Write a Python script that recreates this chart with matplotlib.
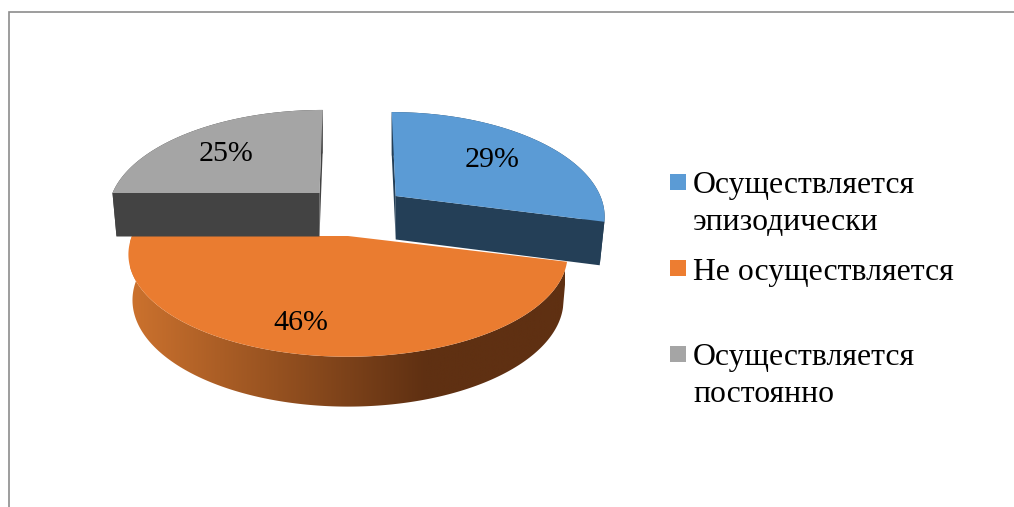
import matplotlib
matplotlib.use('Agg')
import matplotlib.pyplot as plt
import numpy as np
from matplotlib.patches import Polygon, Rectangle

plt.rcParams['font.family'] = ['Liberation Serif', 'DejaVu Serif']

# data
categories = ['Осуществляется\nэпизодически', 'Не осуществляется', 'Осуществляется\nпостоянно']
values = [29, 46, 25]

# colours
top_colors = ['#5B9BD5', '#EA7C30', '#A5A5A5']
side_colors = ['#243F57', None, '#434343']
legend_colors = ['#5B9BD5', '#ED7D31', '#A5A5A5']

# slice layout in pixels: centre, radii, tilt of the inner edge, wall
P = 0.18
cx = [395.7, 348, 319.5]
cy = [196, 236, 193]
rx = [204.6, 216, 207]
ry = [99, 99, 98]
skew = [-0.023, 0.0, 0.018]
wall = [43.5, 45, 43.5]
bottom_rx = [200, 212, 203]
bottom_ry = [99, 103, 98]

# label position along the slice radius, and a small nudge
label_r = [0.7, 0.742, 0.66]
label_dx = [-7, -24, -6]
label_dy = [3, 3, 3]

# legend layout
legend_x = 670
legend_box = 16
legend_text_x = 693
legend_box_top = [174, 260, 346]
legend_baseline = [193, 280, 365]
legend_pitch = 37


def project(theta, r, x0, y0, rad_x, rad_y, k):
    # slice plane to screen, back of the pie is squeezed by the perspective
    u = r * np.sin(theta)
    v = r * np.cos(theta)
    w = 1 + P * v
    return x0 + rad_x * (u + k * v) / w, y0 - rad_y * v / w


def radial_face(i, theta):
    # flat wall between the slice centre and its rim at angle theta
    x1, y1 = project(theta, 1, cx[i], cy[i], rx[i], ry[i], skew[i])
    x2, y2 = project(theta, 1, cx[i], cy[i] + wall[i], bottom_rx[i], bottom_ry[i], skew[i])
    return [(cx[i], cy[i]), (x1, y1), (x2, y2), (cx[i], cy[i] + wall[i])]


fig = plt.figure(figsize=(10.14, 5.07), dpi=100)
ax = fig.add_axes([0, 0, 1, 1])

# angles from the values, clockwise from the top
edges = np.cumsum([0] + values) / sum(values) * 2 * np.pi

# draw the side slices first, the orange one overlaps them
for i in [0, 2, 1]:
    t = np.linspace(edges[i], edges[i + 1], 200)
    tx, ty = project(t, 1, cx[i], cy[i], rx[i], ry[i], skew[i])
    bx, by = project(t, 1, cx[i], cy[i] + wall[i], bottom_rx[i], bottom_ry[i], skew[i])
    top_pts = np.column_stack([np.r_[cx[i], tx], np.r_[cy[i], ty]])
    base = (i + 3) * 2
    wall_pts = np.column_stack([np.r_[tx, bx[::-1]], np.r_[ty, by[::-1]]])

    if side_colors[i] is None:
        # gradient wall of the front slice
        wall_patch = Polygon(wall_pts, closed=True, facecolor='none', edgecolor='none')
        ax.add_patch(wall_patch)
        ramp = np.clip(np.linspace(0, 1, 512) / 0.68, 0, 1)
        c1 = np.array([0xCC, 0x72, 0x2E]) / 255
        c2 = np.array([0x5F, 0x30, 0x12]) / 255
        img = np.array([c1 + (c2 - c1) * a for a in ramp])[None, :, :]
        im = ax.imshow(img, extent=[130, 565, 410, 230], aspect='auto', zorder=base)
        im.set_clip_path(wall_patch)
    else:
        # both cut faces and the rim, same flat colour
        for face in [radial_face(i, edges[i]), radial_face(i, edges[i + 1])]:
            ax.add_patch(Polygon(face, closed=True, facecolor=side_colors[i], edgecolor='none', zorder=base))
        ax.add_patch(Polygon(wall_pts, closed=True, facecolor=side_colors[i], edgecolor='none', zorder=base))

    ax.add_patch(Polygon(top_pts, closed=True, facecolor=top_colors[i], edgecolor='none', zorder=base + 1))

    # data label
    mid = (edges[i] + edges[i + 1]) / 2
    lx, ly = project(mid, label_r[i], cx[i], cy[i], rx[i], ry[i], skew[i])
    ax.text(lx + label_dx[i], ly + label_dy[i], f'{values[i]}%', fontsize=21.6, ha='center', va='center',
            color='black', zorder=20)

# legend
for i in range(len(categories)):
    ax.add_patch(Rectangle((legend_x, legend_box_top[i]), legend_box, legend_box,
                           facecolor=legend_colors[i], edgecolor='none'))
    for j, line in enumerate(categories[i].split('\n')):
        ax.text(legend_text_x, legend_baseline[i] + j * legend_pitch, line, fontsize=22.9,
                ha='left', va='baseline', color='black')

# frame of the chart area
ax.plot([8.5, 8.5, 1014], [507, 12, 12], color='#8C8C8C', lw=1.2, solid_joinstyle='miter')

ax.set_xlim(0, 1014)
ax.set_ylim(507, 0)
ax.axis('off')

fig.savefig('out.png', dpi=100, facecolor='white')
